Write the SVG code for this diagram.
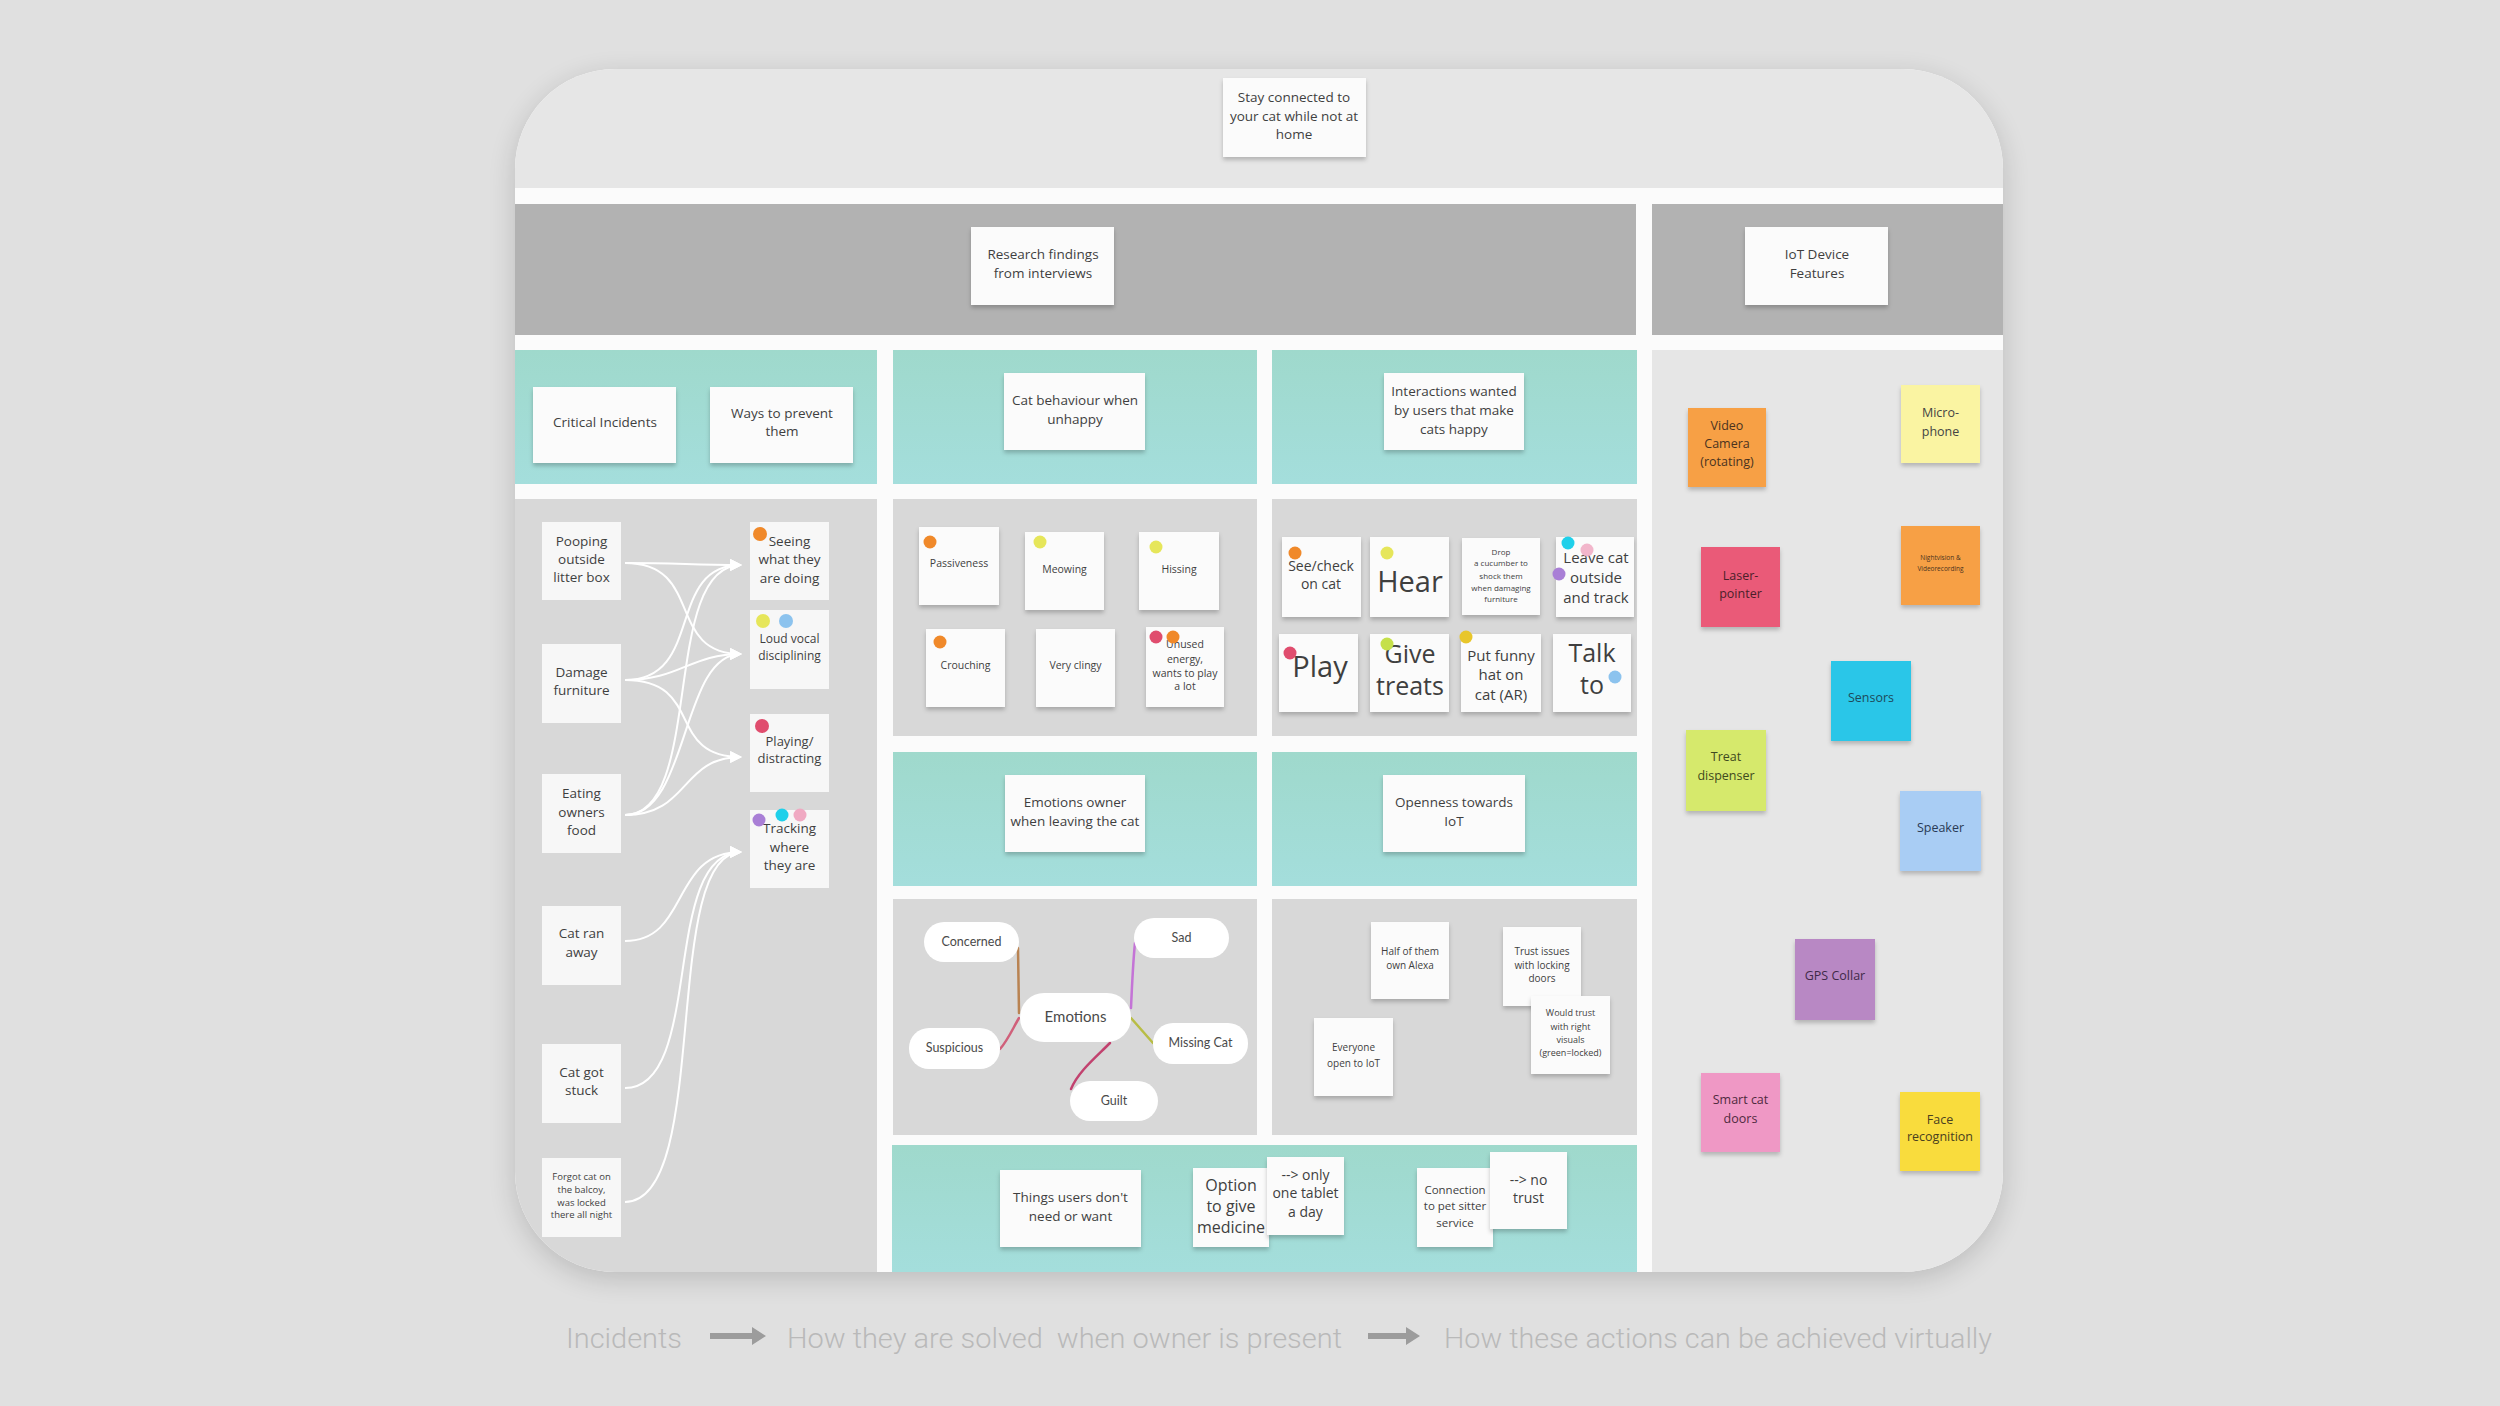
<svg xmlns="http://www.w3.org/2000/svg" width="2500" height="1406" viewBox="0 0 2500 1406">
<defs>
<style>
.note{fill:#fbfbfb;filter:url(#sh)}
.flat{fill:#f7f7f7}
.t{font-family:"Open Sans","Liberation Sans",sans-serif;fill:#3f3f3f;text-anchor:middle}
.pill{fill:#ffffff}
.pt{font-family:"Lato","Open Sans",sans-serif;fill:#4a4a4a;text-anchor:middle}
.conn{fill:none;stroke:#ffffff;stroke-width:2;marker-end:url(#ah)}
.teal{fill:url(#tg)}
.panel{fill:#d8d8d8}
.light{fill:#e6e6e6}
.cap{font-family:"Roboto","Open Sans",sans-serif;font-weight:300;font-size:28px;fill:#b9b9b9}
.dot{stroke:none}
</style>
<linearGradient id="tg" x1="0" y1="0" x2="0" y2="1">
<stop offset="0" stop-color="#9fd9cc"/>
<stop offset="1" stop-color="#a4dedc"/>
</linearGradient>
<filter id="sh" x="-20%" y="-20%" width="140%" height="150%">
<feDropShadow dx="0" dy="3" stdDeviation="2" flood-color="#000" flood-opacity="0.22"/>
</filter>
<filter id="bsh" x="-10%" y="-10%" width="120%" height="120%">
<feGaussianBlur stdDeviation="14"/>
</filter>
<clipPath id="board">
<rect x="515" y="69" width="1488" height="1203" rx="100" ry="100"/>
</clipPath>
<marker id="ah" viewBox="0 0 10 10" refX="9" refY="5" markerWidth="12" markerHeight="12" markerUnits="userSpaceOnUse" orient="auto">
<path d="M0,0 L10,5 L0,10 z" fill="#ffffff"/>
</marker>
</defs>

<rect x="0" y="0" width="2500" height="1406" fill="#e0e0e0"/>
<rect x="515" y="76" width="1488" height="1203" rx="100" fill="#000" opacity="0.16" filter="url(#bsh)"/>

<g id="board-bg" clip-path="url(#board)">
<rect x="515" y="69" width="1488" height="1203" fill="#fbfbfb"/>
<rect class="light" x="515" y="69" width="1488" height="119"/>
<rect x="515" y="204" width="1121" height="131" fill="#b2b2b2"/>
<rect x="1652" y="204" width="351" height="131" fill="#b2b2b2"/>
<rect class="teal" x="515" y="350" width="362" height="134"/>
<rect class="teal" x="893" y="350" width="364" height="134"/>
<rect class="teal" x="1272" y="350" width="365" height="134"/>
<rect class="light" x="1652" y="350" width="351" height="922"/>
<rect class="panel" x="515" y="499" width="362" height="773"/>
<rect class="panel" x="893" y="499" width="364" height="237"/>
<rect class="panel" x="1272" y="499" width="365" height="237"/>
<rect class="teal" x="893" y="752" width="364" height="134"/>
<rect class="teal" x="1272" y="752" width="365" height="134"/>
<rect class="panel" x="893" y="899" width="364" height="236"/>
<rect class="panel" x="1272" y="899" width="365" height="236"/>
<rect class="teal" x="892" y="1145" width="745" height="127"/>
</g>

<g id="title">
<rect class="note" x="1223" y="78" width="143" height="79"/>
<text class="t" font-size="13.5"><tspan x="1294" y="102">Stay connected to</tspan><tspan x="1294" y="121">your cat while not at</tspan><tspan x="1294" y="139">home</tspan></text>
</g>
<g id="research">
<rect class="note" x="971" y="227" width="143" height="78"/>
<text class="t" font-size="13.5"><tspan x="1043" y="259">Research findings</tspan><tspan x="1043" y="278">from interviews</tspan></text>
</g>
<g id="iot-features">
<rect class="note" x="1745" y="227" width="143" height="78"/>
<text class="t" font-size="13.5"><tspan x="1817" y="259">IoT Device</tspan><tspan x="1817" y="278">Features</tspan></text>
</g>

<g id="critical-incidents">
<rect class="note" x="533" y="387" width="143" height="76"/>
<text class="t" font-size="13.5" x="605" y="427">Critical Incidents</text>
</g>
<g id="ways-prevent">
<rect class="note" x="710" y="387" width="143" height="76"/>
<text class="t" font-size="13.5"><tspan x="782" y="418">Ways to prevent</tspan><tspan x="782" y="436">them</tspan></text>
</g>
<g id="cat-behaviour">
<rect class="note" x="1004" y="373" width="141" height="77"/>
<text class="t" font-size="13.5"><tspan x="1075" y="405">Cat behaviour when</tspan><tspan x="1075" y="424">unhappy</tspan></text>
</g>
<g id="interactions">
<rect class="note" x="1384" y="373" width="140" height="77"/>
<text class="t" font-size="13.5"><tspan x="1454" y="396">Interactions wanted</tspan><tspan x="1454" y="415">by users that make</tspan><tspan x="1454" y="434">cats happy</tspan></text>
</g>

<g id="connectors">
<path class="conn" d="M625,563 C680,563 690,565 741,565"/>
<path class="conn" d="M625,563 C705,563 665,654 741,654"/>
<path class="conn" d="M625,680 C705,680 665,565 741,565"/>
<path class="conn" d="M625,680 C680,680 690,654 741,654"/>
<path class="conn" d="M625,680 C705,680 665,757 741,757"/>
<path class="conn" d="M625,815 C705,815 660,565 741,565"/>
<path class="conn" d="M625,815 C690,815 680,654 741,654"/>
<path class="conn" d="M625,815 C690,815 680,757 741,757"/>
<path class="conn" d="M625,941 C690,941 670,852 741,852"/>
<path class="conn" d="M625,1088 C705,1088 660,852 741,852"/>
<path class="conn" d="M625,1202 C712,1202 660,852 741,852"/>
</g>

<g id="inc-pooping">
<rect class="flat" x="542" y="522" width="79" height="78"/>
<text class="t" font-size="13.5"><tspan x="581.5" y="546">Pooping</tspan><tspan x="581.5" y="564">outside</tspan><tspan x="581.5" y="582">litter box</tspan></text>
</g>
<g id="inc-damage">
<rect class="flat" x="542" y="644" width="79" height="79"/>
<text class="t" font-size="13.5"><tspan x="581.5" y="677">Damage</tspan><tspan x="581.5" y="695">furniture</tspan></text>
</g>
<g id="inc-eating">
<rect class="flat" x="542" y="774" width="79" height="79"/>
<text class="t" font-size="13.5"><tspan x="581.5" y="798">Eating</tspan><tspan x="581.5" y="817">owners</tspan><tspan x="581.5" y="835">food</tspan></text>
</g>
<g id="inc-ran-away">
<rect class="flat" x="542" y="906" width="79" height="79"/>
<text class="t" font-size="13.5"><tspan x="581.5" y="938">Cat ran</tspan><tspan x="581.5" y="957">away</tspan></text>
</g>
<g id="inc-stuck">
<rect class="flat" x="542" y="1044" width="79" height="79"/>
<text class="t" font-size="13.5"><tspan x="581.5" y="1077">Cat got</tspan><tspan x="581.5" y="1095">stuck</tspan></text>
</g>
<g id="inc-forgot">
<rect class="flat" x="542" y="1158" width="79" height="79"/>
<text class="t" font-size="9.5"><tspan x="581.5" y="1180">Forgot cat on</tspan><tspan x="581.5" y="1193">the balcoy,</tspan><tspan x="581.5" y="1206">was locked</tspan><tspan x="581.5" y="1218">there all night</tspan></text>
</g>

<g id="prev-seeing">
<rect class="flat" x="750" y="522" width="79" height="78"/>
<text class="t" font-size="13.5"><tspan x="789.5" y="546">Seeing</tspan><tspan x="789.5" y="564">what they</tspan><tspan x="789.5" y="583">are doing</tspan></text>
<circle class="dot" cx="760" cy="534" r="7" fill="#f0892a"/>
</g>
<g id="prev-loud">
<rect class="flat" x="750" y="610" width="79" height="79"/>
<text class="t" font-size="12"><tspan x="789.5" y="643">Loud vocal</tspan><tspan x="789.5" y="660">disciplining</tspan></text>
<circle class="dot" cx="763" cy="621" r="7" fill="#e6e65a"/>
<circle class="dot" cx="786" cy="621" r="7" fill="#8cc3ee"/>
</g>
<g id="prev-playing">
<rect class="flat" x="750" y="714" width="79" height="78"/>
<text class="t" font-size="13"><tspan x="789.5" y="746">Playing/</tspan><tspan x="789.5" y="763">distracting</tspan></text>
<circle class="dot" cx="762" cy="726" r="7" fill="#e04d6e"/>
</g>
<g id="prev-tracking">
<rect class="flat" x="750" y="810" width="79" height="78"/>
<text class="t" font-size="13.5"><tspan x="789.5" y="833">Tracking</tspan><tspan x="789.5" y="852">where</tspan><tspan x="789.5" y="870">they are</tspan></text>
<circle class="dot" cx="759" cy="820" r="6.5" fill="#a97fd6"/>
<circle class="dot" cx="782" cy="815" r="6.5" fill="#1fd0ea"/>
<circle class="dot" cx="800" cy="815" r="6.5" fill="#f0a9c2"/>
</g>

<g id="b-passiveness">
<rect class="note" x="919" y="527" width="80" height="78"/>
<text class="t" font-size="10.5" x="959" y="567">Passiveness</text>
<circle class="dot" cx="930" cy="542" r="6.5" fill="#f0892a"/>
</g>
<g id="b-meowing">
<rect class="note" x="1025" y="532" width="79" height="78"/>
<text class="t" font-size="10.5" x="1064.5" y="573">Meowing</text>
<circle class="dot" cx="1040" cy="542" r="6.5" fill="#e6e65a"/>
</g>
<g id="b-hissing">
<rect class="note" x="1139" y="532" width="80" height="78"/>
<text class="t" font-size="10.5" x="1179" y="573">Hissing</text>
<circle class="dot" cx="1156" cy="547" r="6.5" fill="#e6e65a"/>
</g>
<g id="b-crouching">
<rect class="note" x="926" y="629" width="79" height="78"/>
<text class="t" font-size="10.5" x="965.5" y="669">Crouching</text>
<circle class="dot" cx="940" cy="642" r="6.5" fill="#f0892a"/>
</g>
<g id="b-clingy">
<rect class="note" x="1036" y="629" width="79" height="78"/>
<text class="t" font-size="10.5" x="1075.5" y="669">Very clingy</text>
</g>
<g id="b-unused">
<rect class="note" x="1146" y="627" width="78" height="80"/>
<text class="t" font-size="10.5"><tspan x="1185" y="648">Unused</tspan><tspan x="1185" y="663">energy,</tspan><tspan x="1185" y="677">wants to play</tspan><tspan x="1185" y="690">a lot</tspan></text>
<circle class="dot" cx="1156" cy="637" r="6.5" fill="#e04d6e"/>
<circle class="dot" cx="1173" cy="637" r="6.5" fill="#f0892a"/>
</g>

<g id="i-see">
<rect class="note" x="1282" y="537" width="79" height="80"/>
<text class="t" font-size="14"><tspan x="1321" y="571">See/check</tspan><tspan x="1321" y="589">on cat</tspan></text>
<circle class="dot" cx="1295" cy="553" r="6.5" fill="#f0892a"/>
</g>
<g id="i-hear">
<rect class="note" x="1370" y="537" width="79" height="80"/>
<text class="t" font-size="29" x="1410" y="592">Hear</text>
<circle class="dot" cx="1387" cy="553" r="6.5" fill="#e6e65a"/>
</g>
<g id="i-drop">
<rect class="note" x="1462" y="538" width="78" height="77"/>
<text class="t" font-size="8"><tspan x="1501" y="555">Drop</tspan><tspan x="1501" y="566">a cucumber to</tspan><tspan x="1501" y="579">shock them</tspan><tspan x="1501" y="591">when damaging</tspan><tspan x="1501" y="602">furniture</tspan></text>
</g>
<g id="i-leave">
<rect class="note" x="1556" y="537" width="78" height="80"/>
<text class="t" font-size="15"><tspan x="1596" y="563">Leave cat</tspan><tspan x="1596" y="583">outside</tspan><tspan x="1596" y="603">and track</tspan></text>
<circle class="dot" cx="1568" cy="543" r="6.5" fill="#1fd0ea"/>
<circle class="dot" cx="1587" cy="550" r="6.5" fill="#f0a9c2" opacity="0.85"/>
<circle class="dot" cx="1559" cy="574" r="6.5" fill="#a97fd6"/>
</g>
<g id="i-play">
<rect class="note" x="1279" y="634" width="79" height="78"/>
<text class="t" font-size="29" x="1320" y="677">Play</text>
<circle class="dot" cx="1290" cy="653" r="6.5" fill="#e04d6e"/>
</g>
<g id="i-treats">
<rect class="note" x="1370" y="634" width="79" height="78"/>
<text class="t" font-size="25"><tspan x="1410" y="663">Give</tspan><tspan x="1410" y="695">treats</tspan></text>
<circle class="dot" cx="1387" cy="644" r="6.5" fill="#c5e04a"/>
</g>
<g id="i-hat">
<rect class="note" x="1461" y="634" width="80" height="78"/>
<text class="t" font-size="15"><tspan x="1501" y="661">Put funny</tspan><tspan x="1501" y="680">hat on</tspan><tspan x="1501" y="700">cat (AR)</tspan></text>
<circle class="dot" cx="1466" cy="637" r="6.5" fill="#e8c62a"/>
</g>
<g id="i-talk">
<rect class="note" x="1553" y="634" width="78" height="78"/>
<text class="t" font-size="25"><tspan x="1592" y="662">Talk</tspan><tspan x="1592" y="694">to</tspan></text>
<circle class="dot" cx="1615" cy="677" r="6.5" fill="#8cc3ee"/>
</g>

<g id="emotions-owner">
<rect class="note" x="1005" y="775" width="140" height="77"/>
<text class="t" font-size="13.5"><tspan x="1075" y="807">Emotions owner</tspan><tspan x="1075" y="826">when leaving the cat</tspan></text>
</g>
<g id="openness">
<rect class="note" x="1383" y="775" width="142" height="77"/>
<text class="t" font-size="13.5"><tspan x="1454" y="807">Openness towards</tspan><tspan x="1454" y="826">IoT</tspan></text>
</g>

<g id="emotion-links" fill="none" stroke-width="2.5" stroke-linecap="round">
<path d="M1018,948 L1019,1013" stroke="#b98352"/>
<path d="M1000,1049 C1008,1040 1013,1028 1019,1018" stroke="#d0607a"/>
<path d="M1131,1008 C1132,985 1133,962 1135,943" stroke="#c474d6"/>
<path d="M1131,1018 L1153,1043" stroke="#b8bd45"/>
<path d="M1110,1043 C1095,1058 1078,1072 1071,1089" stroke="#c2426f"/>
</g>
<g id="e-concerned">
<rect class="pill" x="924" y="922" width="95" height="40" rx="20"/>
<text class="pt" font-size="12.5" x="971.5" y="946">Concerned</text>
</g>
<g id="e-sad">
<rect class="pill" x="1134" y="918" width="95" height="40" rx="20"/>
<text class="pt" font-size="12.5" x="1181.5" y="942">Sad</text>
</g>
<g id="e-emotions">
<rect class="pill" x="1020" y="993" width="111" height="49" rx="24"/>
<text class="pt" font-size="15" x="1075.5" y="1022">Emotions</text>
</g>
<g id="e-suspicious">
<rect class="pill" x="909" y="1028" width="91" height="41" rx="20"/>
<text class="pt" font-size="12.5" x="954.5" y="1052">Suspicious</text>
</g>
<g id="e-missing">
<rect class="pill" x="1153" y="1023" width="95" height="41" rx="20"/>
<text class="pt" font-size="12.5" x="1200.5" y="1047">Missing Cat</text>
</g>
<g id="e-guilt">
<rect class="pill" x="1070" y="1081" width="88" height="40" rx="20"/>
<text class="pt" font-size="12.5" x="1114" y="1105">Guilt</text>
</g>

<g id="o-alexa">
<rect class="note" x="1371" y="922" width="78" height="77"/>
<text class="t" font-size="10" fill="#555"><tspan x="1410" y="955">Half of them</tspan><tspan x="1410" y="969">own Alexa</tspan></text>
</g>
<g id="o-trust-issues">
<rect class="note" x="1503" y="927" width="78" height="79"/>
<text class="t" font-size="10"><tspan x="1542" y="955">Trust issues</tspan><tspan x="1542" y="969">with locking</tspan><tspan x="1542" y="982">doors</tspan></text>
</g>
<g id="o-would-trust">
<rect class="note" x="1531" y="996" width="79" height="78"/>
<text class="t" font-size="9"><tspan x="1570.5" y="1016">Would trust</tspan><tspan x="1570.5" y="1030">with right</tspan><tspan x="1570.5" y="1043">visuals</tspan><tspan x="1570.5" y="1056">(green=locked)</tspan></text>
</g>
<g id="o-everyone">
<rect class="note" x="1314" y="1018" width="79" height="78"/>
<text class="t" font-size="10"><tspan x="1353.5" y="1051">Everyone</tspan><tspan x="1353.5" y="1067">open to IoT</tspan></text>
</g>

<g id="things-dont-want">
<rect class="note" x="1000" y="1170" width="141" height="77"/>
<text class="t" font-size="13.5"><tspan x="1070.5" y="1202">Things users don't</tspan><tspan x="1070.5" y="1221">need or want</tspan></text>
</g>
<g id="medicine">
<rect class="note" x="1193" y="1168" width="76" height="79"/>
<text class="t" font-size="16"><tspan x="1231" y="1191">Option</tspan><tspan x="1231" y="1212">to give</tspan><tspan x="1231" y="1233">medicine</tspan></text>
</g>
<g id="one-tablet">
<rect class="note" x="1267" y="1157" width="77" height="78"/>
<text class="t" font-size="14"><tspan x="1305.5" y="1180">--&gt; only</tspan><tspan x="1305.5" y="1198">one tablet</tspan><tspan x="1305.5" y="1217">a day</tspan></text>
</g>
<g id="pet-sitter">
<rect class="note" x="1417" y="1168" width="76" height="79"/>
<text class="t" font-size="11.5"><tspan x="1455" y="1194">Connection</tspan><tspan x="1455" y="1210">to pet sitter</tspan><tspan x="1455" y="1227">service</tspan></text>
</g>
<g id="no-trust">
<rect class="note" x="1490" y="1152" width="77" height="77"/>
<text class="t" font-size="14"><tspan x="1528.5" y="1185">--&gt; no</tspan><tspan x="1528.5" y="1203">trust</tspan></text>
</g>

<g id="f-video">
<rect class="note" x="1688" y="408" width="78" height="79" style="fill:#f7a044"/>
<text class="t" font-size="12.5" style="fill:#4a3320"><tspan x="1727" y="430">Video</tspan><tspan x="1727" y="448">Camera</tspan><tspan x="1727" y="466">(rotating)</tspan></text>
</g>
<g id="f-microphone">
<rect class="note" x="1901" y="385" width="79" height="78" style="fill:#faf4a2"/>
<text class="t" font-size="12.5" style="fill:#444"><tspan x="1940.5" y="417">Micro-</tspan><tspan x="1940.5" y="436">phone</tspan></text>
</g>
<g id="f-laser">
<rect class="note" x="1701" y="547" width="79" height="80" style="fill:#ea5a78"/>
<text class="t" font-size="12.5" style="fill:#4a1f2a"><tspan x="1740.5" y="580">Laser-</tspan><tspan x="1740.5" y="598">pointer</tspan></text>
</g>
<g id="f-nightvision">
<rect class="note" x="1901" y="526" width="79" height="79" style="fill:#f7a044"/>
<text class="t" font-size="6.5" style="fill:#4a3320"><tspan x="1940.5" y="560">Nightvision &amp;</tspan><tspan x="1940.5" y="571">Videorecording</tspan></text>
</g>
<g id="f-sensors">
<rect class="note" x="1831" y="661" width="80" height="80" style="fill:#2cc6e8"/>
<text class="t" font-size="12.5" x="1871" y="702" style="fill:#1e4a5a">Sensors</text>
</g>
<g id="f-treat">
<rect class="note" x="1686" y="730" width="80" height="81" style="fill:#d6e96c"/>
<text class="t" font-size="12.5" style="fill:#3f4a20"><tspan x="1726" y="761">Treat</tspan><tspan x="1726" y="780">dispenser</tspan></text>
</g>
<g id="f-speaker">
<rect class="note" x="1900" y="791" width="81" height="80" style="fill:#a9cdf4"/>
<text class="t" font-size="12.5" x="1940.5" y="832" style="fill:#2a3a55">Speaker</text>
</g>
<g id="f-gps">
<rect class="note" x="1795" y="939" width="80" height="81" style="fill:#b888c4"/>
<text class="t" font-size="12.5" x="1835" y="980" style="fill:#3f2a48">GPS Collar</text>
</g>
<g id="f-catdoors">
<rect class="note" x="1701" y="1073" width="79" height="79" style="fill:#ef98c5"/>
<text class="t" font-size="12.5" style="fill:#4f2a40"><tspan x="1740.5" y="1104">Smart cat</tspan><tspan x="1740.5" y="1123">doors</tspan></text>
</g>
<g id="f-face">
<rect class="note" x="1900" y="1092" width="80" height="79" style="fill:#f9dc3c"/>
<text class="t" font-size="12.5" style="fill:#4a4020"><tspan x="1940" y="1124">Face</tspan><tspan x="1940" y="1141">recognition</tspan></text>
</g>

<g id="caption">
<text class="cap" x="566" y="1348" textLength="116" lengthAdjust="spacingAndGlyphs">Incidents</text>
<polygon points="710,1333 752,1333 752,1327 766,1336 752,1345 752,1339 710,1339" fill="#9c9c9c"/>
<text class="cap" x="787" y="1348" textLength="555" lengthAdjust="spacingAndGlyphs">How they are solved&#160; when owner is present</text>
<polygon points="1368,1333 1406,1333 1406,1327 1420,1336 1406,1345 1406,1339 1368,1339" fill="#9c9c9c"/>
<text class="cap" x="1444" y="1348" textLength="548" lengthAdjust="spacingAndGlyphs">How these actions can be achieved virtually</text>
</g>
</svg>
